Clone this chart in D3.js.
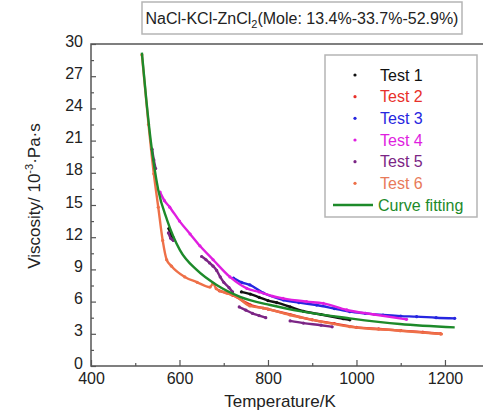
<!DOCTYPE html>
<html>
<head>
  <meta charset="utf-8">
  <title>Viscosity vs temperature</title>
  <style>
    body { margin: 0; background: #fff; }
    text { font-family: Arial, "Liberation Sans", sans-serif; }
  </style>
</head>
<body>
  <script src="https://d3js.org/d3.v7.min.js"></script>
  <script type="text/javascript">

// data: [temperature K, viscosity 10^-3 Pa.s]
var seriesNames = ["Test 1", "Test 2", "Test 3", "Test 4", "Test 5", "Test 6"];
var fitName = "Curve fitting";
var xTicks = [400, 600, 800, 1000, 1200];
var xMinorTicks = [500, 700, 900, 1100];
var yTicks = [0, 3, 6, 9, 12, 15, 18, 21, 24, 27, 30];
var yMinorTicks = [1.5, 4.5, 7.5, 10.5, 13.5, 16.5, 19.5, 22.5, 25.5, 28.5];

var test1 = [[576, 12.8], [580, 12.3], [585, 12.0], null,
             [740, 6.9], [760, 6.7], [780, 6.4], [800, 6.1], [820, 5.9], [850, 5.5],
             [880, 5.1], [920, 4.8], [970, 4.4], [985, 4.3]];
var test2 = [[690, 7.0], [720, 6.6], [760, 5.7], [800, 5.3], [850, 4.8], [900, 4.3],
             [950, 3.95], [1000, 3.6], [1050, 3.45], [1100, 3.3], [1150, 3.15], [1190, 3.0]];
var test3 = [[722, 8.2], [740, 7.8], [759, 7.55], [790, 6.8], [835, 6.15], [870, 5.9],
             [910, 5.68], [950, 5.35], [985, 5.06], [1020, 4.9], [1060, 4.75], [1100, 4.65],
             [1136, 4.6], [1180, 4.5], [1222, 4.44]];
var test4 = [[556, 16.2], [566, 15.4], [578, 14.8], [600, 13.5], [624, 12.3], [646, 11.2],
             [676, 9.9], [714, 8.3], [752, 7.24], [780, 6.9], [811, 6.5], [834, 6.3],
             [887, 6.0], [925, 5.84], [978, 5.22], [1040, 4.8], [1113, 4.35]];
var test5 = [[538, 20.2], [542, 19.2], [546, 18.4], null,
             [575, 12.4], [580, 11.9], [586, 11.7], null,
             [650, 10.2], [660, 9.9], [668, 9.6], [676, 9.3], [684, 8.9], [692, 8.3],
             [700, 7.8], [712, 7.3], [720, 6.9], null,
             [735, 5.5], [750, 5.2], [765, 4.9], [780, 4.7], [795, 4.5], null,
             [850, 4.2], [880, 4.0], [920, 3.8], [945, 3.65]];
var test6 = [[515, 29.0], [530, 22.5], [542, 17.9], [552, 14.8], [562, 11.7], [571, 9.9],
             [582, 9.3], [612, 8.3], [640, 7.8], [669, 7.35], [676, 7.7], [683, 7.2],
             [706, 6.8], [729, 6.46], [759, 5.6], [789, 5.4], [850, 4.75], [872, 4.55],
             [985, 3.66], [1098, 3.29], [1192, 2.98]];
var fitCurve = [[515, 29.2], [525, 24.8], [535, 21.0], [552, 16.4], [572, 13.6], [601, 10.8],
                [639, 8.95], [684, 7.55], [737, 6.45], [805, 5.68], [879, 5.06], [985, 4.44],
                [1098, 3.91], [1222, 3.6]];

var colors = ["#111111", "#e8302a", "#2626e0", "#e01ee0", "#7b2585", "#ee7048"];
var fitColor = "#1d8a2a";

var width = 483, height = 413;
var plot = {left: 91, right: 487, top: 44, bottom: 366};

var svg = d3.select("body")
    .append("svg")
    .attr("width", width)
    .attr("height", height);

var xScale = d3.scaleLinear()
    .domain([400, 1295])
    .range([plot.left, plot.right]);

var yScale = d3.scaleLinear()
    .domain([0, 30])
    .range([plot.bottom, plot.top]);

var line = d3.line()
    .defined(function(d){ return d != null; })
    .x(function(d){ return xScale(d[0]); })
    .y(function(d){ return yScale(d[1]); })
    .curve(d3.curveMonotoneX);

// title box
svg.append("rect")
    .attr("x", 142).attr("y", 2)
    .attr("width", 320).attr("height", 32)
    .attr("fill", "#fff")
    .attr("stroke", "#b5b5b5")
    .attr("stroke-width", 1.5);

var title = svg.append("text")
    .attr("x", 302).attr("y", 24)
    .attr("text-anchor", "middle")
    .attr("font-size", 16)
    .attr("fill", "#222");
title.append("tspan").text("NaCl-KCl-ZnCl");
title.append("tspan").attr("font-size", 11).attr("dy", 4).text("2");
title.append("tspan").attr("dy", -4).text("(Mole: 13.4%-33.7%-52.9%)");

// series
var allSeries = [test1, test2, test3, test4, test5, test6];
svg.append("clipPath").attr("id", "plotclip")
    .append("rect")
    .attr("x", plot.left).attr("y", plot.top)
    .attr("width", plot.right - plot.left).attr("height", plot.bottom - plot.top);

var g = svg.append("g").attr("clip-path", "url(#plotclip)");

[2, 3, 1, 5, 0, 4].forEach(function(i){
    var s = allSeries[i];
    g.append("path")
        .datum(s)
        .attr("d", line)
        .attr("fill", "none")
        .attr("stroke", colors[i])
        .attr("stroke-width", 2.4)
        .attr("stroke-linecap", "round");
    g.selectAll(".pt" + i)
        .data(s.filter(function(d){ return d != null; }))
        .enter()
        .append("circle")
        .attr("class", "pt" + i)
        .attr("cx", function(d){ return xScale(d[0]); })
        .attr("cy", function(d){ return yScale(d[1]); })
        .attr("r", 1.6)
        .attr("fill", colors[i]);
});

g.append("path")
    .datum(fitCurve)
    .attr("d", line)
    .attr("fill", "none")
    .attr("stroke", fitColor)
    .attr("stroke-width", 2.4);

// frame
svg.append("rect")
    .attr("x", plot.left).attr("y", plot.top)
    .attr("width", plot.right - plot.left).attr("height", plot.bottom - plot.top)
    .attr("fill", "none")
    .attr("stroke", "#555")
    .attr("stroke-width", 1.5);

// axes
svg.append("g")
    .attr("transform", "translate(" + plot.left + ",-3)")
    .call(d3.axisLeft(yScale).tickValues(yTicks).tickSize(0).tickPadding(8));
svg.append("g")
    .attr("transform", "translate(" + plot.left + ",0)")
    .call(d3.axisLeft(yScale).tickValues(yTicks).tickSize(-5).tickFormat(""));
svg.append("g")
    .attr("transform", "translate(" + plot.left + ",0)")
    .call(d3.axisLeft(yScale).tickValues(yMinorTicks).tickSize(-3).tickFormat(""));

svg.append("g")
    .attr("transform", "translate(0," + plot.bottom + ")")
    .call(d3.axisBottom(xScale).tickValues(xTicks).tickSize(-6).tickPadding(7).tickFormat(d3.format("d")));
svg.append("g")
    .attr("transform", "translate(0," + plot.bottom + ")")
    .call(d3.axisBottom(xScale).tickValues(xMinorTicks).tickSize(-3).tickFormat(""));

svg.selectAll(".domain").remove();
svg.selectAll(".tick line").attr("stroke", "#555").attr("stroke-width", 1.2);
svg.selectAll(".tick text")
    .attr("font-family", "Arial, 'Liberation Sans', sans-serif")
    .attr("font-size", 16)
    .attr("fill", "#222");

// axis titles
svg.append("text")
    .attr("x", 280).attr("y", 407)
    .attr("text-anchor", "middle")
    .attr("font-size", 17)
    .attr("fill", "#222")
    .text("Temperature/K");

var ylab = svg.append("text")
    .attr("transform", "translate(40,196) rotate(-90)")
    .attr("text-anchor", "middle")
    .attr("font-size", 17)
    .attr("fill", "#222");
ylab.append("tspan").text("Viscosity/ 10");
ylab.append("tspan").attr("font-size", 11).attr("dy", -7).text("-3");
ylab.append("tspan").attr("dy", 7).text("·Pa·s");

// legend
svg.append("rect")
    .attr("x", 325).attr("y", 55)
    .attr("width", 152).attr("height", 162)
    .attr("fill", "#fff")
    .attr("stroke", "#b5b5b5")
    .attr("stroke-width", 1.5);

var legendColors = ["#111111", "#e8302a", "#2626e0", "#e01ee0", "#7b2585", "#e87a5a"];
var legendY = d3.scaleLinear().domain([0, 6]).range([75, 205]);

var leg = svg.append("g");
leg.selectAll("circle")
    .data(seriesNames)
    .enter()
    .append("circle")
    .attr("cx", 355)
    .attr("cy", function(d, i){ return legendY(i); })
    .attr("r", 1.6)
    .attr("fill", function(d, i){ return colors[i]; });

leg.selectAll("text.name")
    .data(seriesNames)
    .enter()
    .append("text")
    .attr("class", "name")
    .attr("x", 380)
    .attr("y", function(d, i){ return legendY(i); })
    .attr("dy", "0.36em")
    .attr("font-size", 16)
    .attr("fill", function(d, i){ return legendColors[i]; })
    .text(function(d){ return d; });

leg.append("line")
    .attr("x1", 333).attr("x2", 373)
    .attr("y1", legendY(6)).attr("y2", legendY(6))
    .attr("stroke", fitColor)
    .attr("stroke-width", 2.5);
leg.append("text")
    .attr("x", 378)
    .attr("y", legendY(6))
    .attr("dy", "0.36em")
    .attr("font-size", 16)
    .attr("fill", fitColor)
    .text(fitName);

  </script>
</body>
</html>
